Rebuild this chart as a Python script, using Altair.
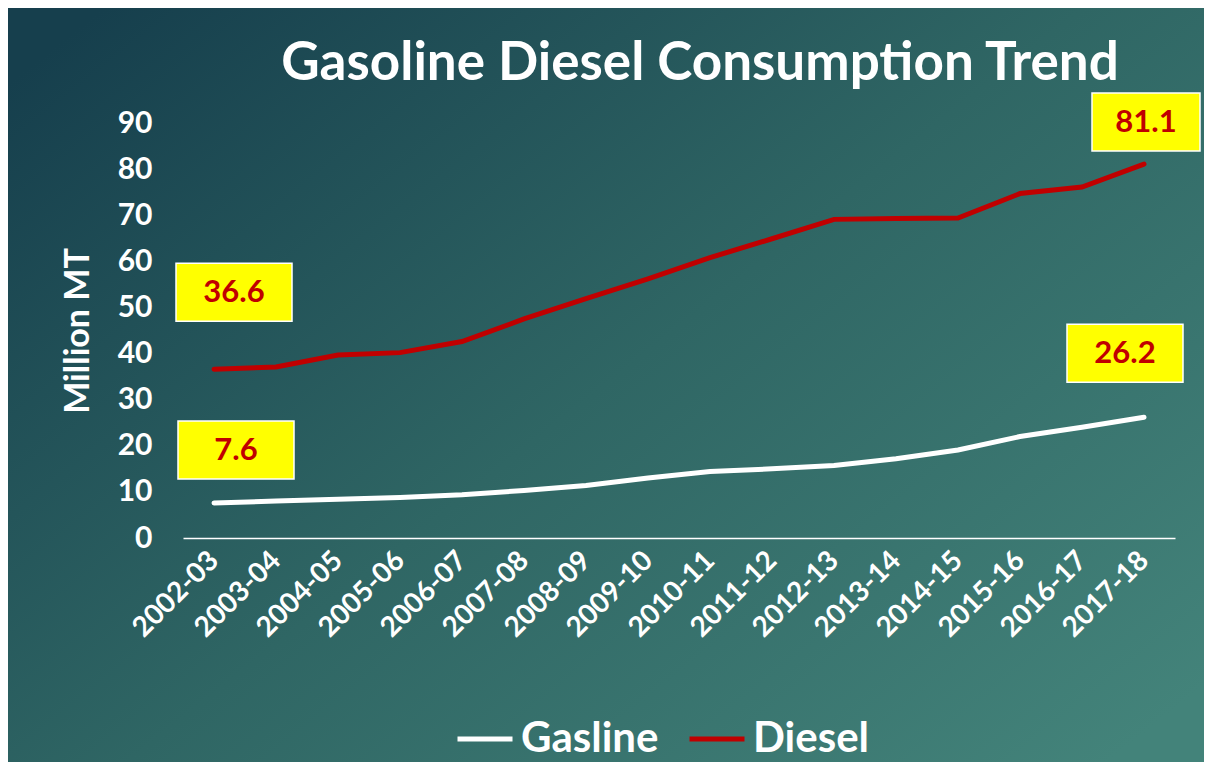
import altair as alt
import pandas as pd

years = ["2002-03", "2003-04", "2004-05", "2005-06", "2006-07", "2007-08",
         "2008-09", "2009-10", "2010-11", "2011-12", "2012-13", "2013-14",
         "2014-15", "2015-16", "2016-17", "2017-18"]
gasoline = [7.6, 8.0, 8.4, 8.8, 9.4, 10.3, 11.4, 13.0, 14.4, 15.0, 15.7,
            17.2, 19.1, 22.0, 24.0, 26.2]
diesel = [36.6, 37.1, 39.7, 40.2, 42.6, 47.5, 51.9, 56.2, 60.8, 64.9, 69.1,
          69.3, 69.4, 74.7, 76.1, 81.1]
series_names = ["Gasline", "Diesel"]
series_colors = ["#FFFFFF", "#C00000"]
title_text = "Gasoline Diesel Consumption Trend"
y_title = "Million MT"
y_ticks = [0, 10, 20, 30, 40, 50, 60, 70, 80, 90]

FONT = "Lato"
W, H = 992, 415

rows = []
for name, vals in zip(series_names, [gasoline, diesel]):
    for yr, v in zip(years, vals):
        rows.append({"year": yr, "value": v, "series": name})
df = pd.DataFrame(rows)

x_enc = alt.X("year:O", sort=years, scale=alt.Scale(type="point", padding=0.5),
              axis=alt.Axis(title=None, labelAngle=315, labelAlign="right",
                            labelBaseline="middle", labelFont=FONT,
                            labelFontWeight="bold", labelFontSize=28,
                            labelColor="white", labelPadding=18, ticks=False,
                            tickSize=0, domainColor="white", domainWidth=1.5,
                            grid=False, zindex=2))
y_enc = alt.Y("value:Q", scale=alt.Scale(domain=[0, 90], nice=False),
              axis=alt.Axis(values=y_ticks, title=y_title, labelFont=FONT,
                            labelFontWeight="bold", labelFontSize=30,
                            labelColor="white", labelPadding=31, ticks=False,
                            tickSize=0, domain=False, grid=False,
                            titleFont=FONT, titleFontWeight="bold",
                            titleFontSize=34, titleColor="white",
                            titleAngle=270, titleX=-105, titleY=H / 2,
                            titleAlign="center", titleBaseline="middle",
                            zindex=2))

gradient = alt.LinearGradient(
    gradient="linear", x1=0, y1=0.1, x2=1, y2=0.9,
    stops=[alt.GradientStop(color="#163f4d", offset=0),
           alt.GradientStop(color="#2f6664", offset=0.5),
           alt.GradientStop(color="#43837a", offset=1)])

bg = alt.Chart(pd.DataFrame({"a": [0]})).mark_rect(fill=gradient).encode(
    x=alt.value(-175), x2=alt.value(W + 29), y=alt.value(-115), y2=alt.value(H + 224))

title = alt.Chart(pd.DataFrame({"t": [title_text]})).mark_text(
    font=FONT, fontWeight="bold", fontSize=53, color="white",
    align="center", baseline="alphabetic").encode(
    text="t:N", x=alt.value(517), y=alt.value(-43))

lines = alt.Chart(df).mark_line(strokeWidth=5, strokeCap="round").encode(
    x=x_enc, y=y_enc,
    color=alt.Color("series:N", sort=series_names,
                    scale=alt.Scale(domain=series_names, range=series_colors),
                    legend=alt.Legend(title=None, orient="none", legendX=272,
                                      legendY=586, direction="horizontal",
                                      symbolType="stroke", symbolSize=3025,
                                      symbolStrokeWidth=5, labelFont=FONT,
                                      labelFontWeight="bold", labelFontSize=42,
                                      labelColor="white", labelOffset=6,
                                      columnPadding=20, zindex=2)))

# label boxes: (series, index, dx, dy, box width)
box_specs = [("Diesel", 0, 20, -77, 116), ("Gasline", 0, 22, -53, 116),
             ("Diesel", 15, 2, -42, 108), ("Gasline", 15, -19, -64, 116)]
label_layers = []
for s, i, dx, dy, bw in box_specs:
    row = df[(df.series == s) & (df.year == years[i])]
    base = alt.Chart(row)
    rect = base.mark_rect(width=bw, height=58, xOffset=dx, yOffset=dy,
                          fill="#FFFF00", stroke="white", strokeWidth=1.5).encode(
        x=alt.X("year:O", sort=years), y="value:Q")
    txt = base.mark_text(dx=dx, dy=dy + 1, font=FONT, fontWeight="bold",
                         fontSize=31, color="#C00000", align="center",
                         baseline="middle").encode(
        x=alt.X("year:O", sort=years), y="value:Q",
        text=alt.Text("value:Q", format=".1f"))
    label_layers += [rect, txt]

chart = alt.layer(bg, title, lines, *label_layers).properties(
    width=W, height=H,
    autosize=alt.AutoSizeParams(type="none"),
    padding={"left": 175, "top": 115, "right": 29, "bottom": 224},
).configure_view(strokeWidth=0).configure(background="white")

chart.save("out.html", embed_options={"renderer": "svg", "actions": False})
